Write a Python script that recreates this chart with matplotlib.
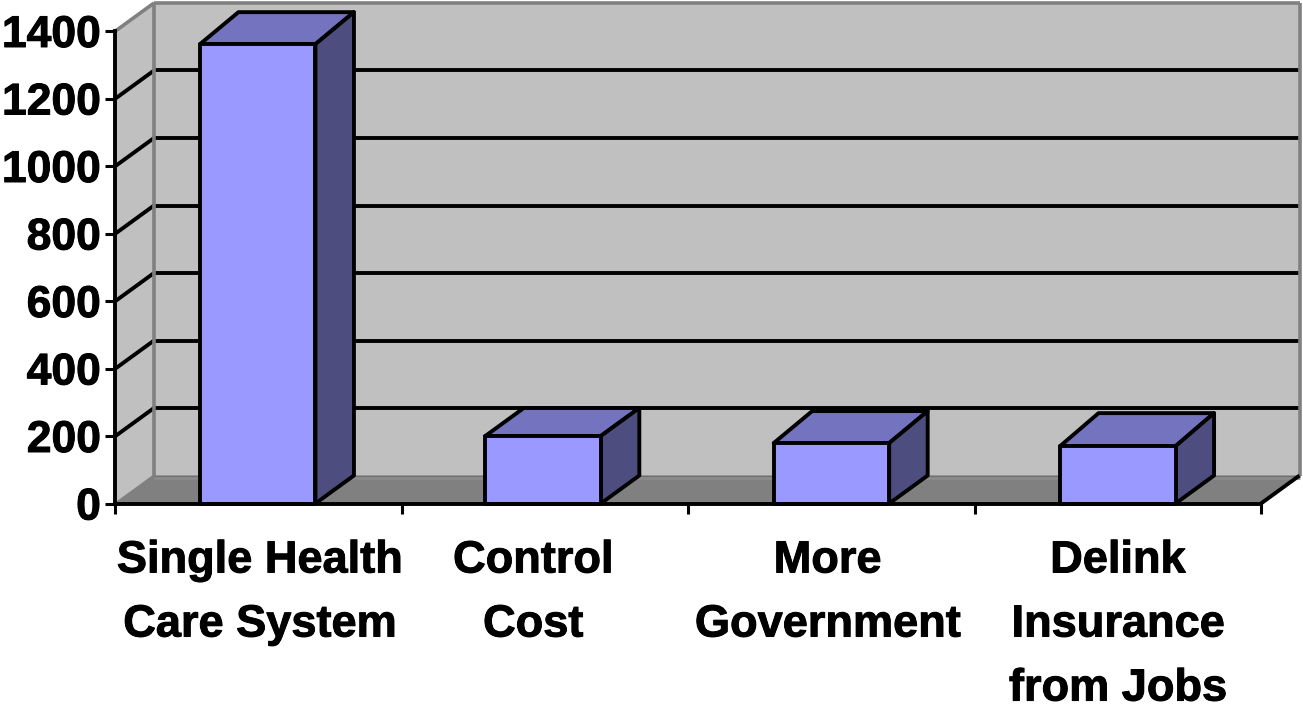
import matplotlib
matplotlib.use("Agg")
import matplotlib.pyplot as plt
import matplotlib.patheffects as pe
from matplotlib.patches import Polygon

# data
categories = ["Single Health\nCare System", "Control\nCost", "More\nGovernment", "Delink\nInsurance\nfrom Jobs"]
values = [1361, 200, 179, 170]
y_ticks = [0, 200, 400, 600, 800, 1000, 1200, 1400]

# nudges in pixels, the original is not quite regular
label_shift = [1, -12, -4, 0]
bar_shift = [-1, -2, 0, 0]
top_depth = [32, 28, 32, 33]

plt.rcParams["font.family"] = ["Liberation Sans", "DejaVu Sans"]

W, H = 1303, 708
fig = plt.figure(figsize=(W / 100, H / 100), dpi=100)

# the axes is the front plane of the 3d box
left, right, top, bottom = 115.5, 1261, 31, 503.5
ax = fig.add_axes([left / W, 1 - bottom / H, (right - left) / W, (bottom - top) / H])
ax.set_xlim(0, 4)
ax.set_ylim(0, 1400)
ax.patch.set_visible(False)

px_x = 4 / (right - left)
px_y = 1400 / (bottom - top)
dx = 38.5 * px_x
dy = 28 * px_y
bar_w = 115.5 * px_x

WALL = "#c0c0c0"
FLOOR = "#808080"
FRONT = "#9999ff"
TOP = "#7373bf"
SIDE = "#4d4d80"
LW = 2.8

thick = [pe.withStroke(linewidth=0.7, foreground="black")]


def poly(points, face, edge="none", lw=0, z=1):
    ax.add_patch(Polygon(points, closed=True, facecolor=face, edgecolor=edge, linewidth=lw,
                         zorder=z, clip_on=False, joinstyle="round"))


def line(xs, ys, color="black", lw=LW, z=2):
    ax.plot(xs, ys, color=color, lw=lw, zorder=z, clip_on=False, solid_capstyle="butt")


# walls and floor
poly([(dx, dy), (4 + dx, dy), (4 + dx, 1400 + dy), (dx, 1400 + dy)], WALL, z=1)
poly([(0, 0), (dx, dy), (dx, 1400 + dy), (0, 1400)], WALL, z=1)
poly([(0, 0), (4, 0), (4 + dx, dy), (dx, dy)], FLOOR, z=1)

# gridlines
for t in y_ticks[1:-1]:
    line([dx, 4 + dx], [t + dy, t + dy], z=2)
    line([0, dx], [t, t + dy], z=2)

# wall edges
line([dx, dx], [dy, 1400 + dy], color="#808080", lw=2.6, z=3)
line([dx, 4 + dx], [1400 + dy, 1400 + dy], color="#808080", lw=2.6, z=3)
line([4 + dx, 4 + dx], [dy, 1400 + dy], color="#808080", lw=2.6, z=3)
line([0, dx], [1400, 1400 + dy], color="#808080", lw=2.6, z=3)
line([0, dx], [0, dy], color="#808080", lw=1.6, z=3)
line([dx, 4 + dx], [dy, dy], color="#707070", lw=1.0, z=3)
line([dx, 4 + dx], [dy - 2.5 * px_y, dy - 2.5 * px_y], color="#8c8c8c", lw=1.8, z=3)
line([4, 4 + dx], [0, dy], z=3)

# bars
for i, v in enumerate(values):
    x0 = i + 0.5 - bar_w / 2 + bar_shift[i] * px_x
    x1 = x0 + bar_w
    back = v + top_depth[i] * px_y
    poly([(x0, v), (x1, v), (x1 + dx, back), (x0 + dx, back)], TOP, "black", LW, 4)
    poly([(x1, 0), (x1 + dx, dy), (x1 + dx, back), (x1, v)], SIDE, "black", LW, 4)
    poly([(x0, 0), (x1, 0), (x1, v), (x0, v)], FRONT, "black", LW, 5)

# axes
for s in ["top", "right"]:
    ax.spines[s].set_visible(False)
for s in ["left", "bottom"]:
    ax.spines[s].set_linewidth(LW)
    ax.spines[s].set_zorder(6)

ax.set_yticks(y_ticks)
ax.set_xticks(range(5))
ax.set_xticklabels([])
ax.tick_params(axis="both", length=7.5, width=2.2, color="black")
ax.tick_params(axis="y", labelsize=32, pad=3)
for lab in ax.get_yticklabels():
    lab.set_fontweight("bold")
    lab.set_path_effects(thick)

for i, name in enumerate(categories):
    ax.annotate(name, xy=(i + 0.5, 0), xytext=(label_shift[i], -37), xycoords="data",
                textcoords="offset pixels", ha="center", va="top", multialignment="center",
                fontsize=32.5, fontweight="bold", linespacing=1.72, annotation_clip=False,
                path_effects=thick)

fig.savefig("out.png", dpi=100)
